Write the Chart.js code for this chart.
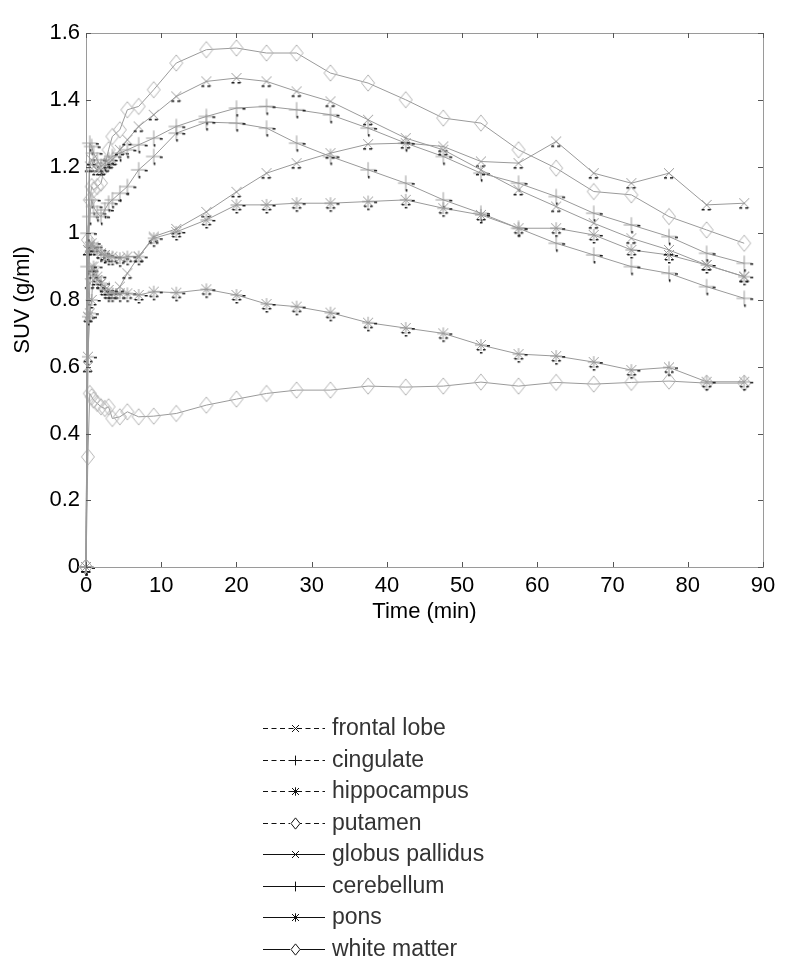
<!DOCTYPE html>
<html>
<head>
<meta charset="utf-8">
<script src="https://cdn.jsdelivr.net/npm/chart.js@4.4.1/dist/chart.umd.min.js"></script>
<style>
  body { margin: 0; background: #fff; }
  #suvChart { display: block; }
</style>
</head>
<body>
<canvas id="suvChart" width="800" height="968"></canvas>
<script>
// frame mid-times (min)
var times = [0, 0.25, 0.5, 0.75, 1, 1.5, 2, 2.5, 3, 3.5, 4.5, 5.5, 7, 9, 12, 16, 20, 24, 28, 32.5, 37.5, 42.5, 47.5, 52.5, 57.5, 62.5, 67.5, 72.5, 77.5, 82.5, 87.5];

var regionNames = ['frontal lobe', 'cingulate', 'hippocampus', 'putamen', 'globus pallidus', 'cerebellum', 'pons', 'white matter'];

// SUV (g/ml)
var frontalLobe   = [0, 0.95, 1.2, 1.22, 1.2, 1.19, 1.19, 1.2, 1.21, 1.22, 1.25, 1.28, 1.32, 1.355, 1.41, 1.455, 1.465, 1.455, 1.425, 1.395, 1.34, 1.285, 1.25, 1.19, 1.13, 1.08, 1.03, 0.985, 0.95, 0.905, 0.87];
var cingulate     = [0, 1.0, 1.27, 1.26, 1.24, 1.22, 1.2, 1.21, 1.22, 1.23, 1.24, 1.25, 1.265, 1.285, 1.32, 1.35, 1.375, 1.38, 1.37, 1.355, 1.315, 1.27, 1.23, 1.18, 1.15, 1.11, 1.06, 1.025, 0.99, 0.94, 0.91];
var hippocampus   = [0, 0.75, 0.96, 0.97, 0.96, 0.95, 0.94, 0.935, 0.93, 0.93, 0.925, 0.93, 0.93, 0.985, 1.004, 1.04, 1.085, 1.085, 1.09, 1.09, 1.095, 1.1, 1.075, 1.055, 1.015, 1.015, 0.995, 0.95, 0.935, 0.905, 0.87];
var putamen       = [0, 0.98, 1.1, 1.14, 1.13, 1.14, 1.15, 1.2, 1.25, 1.29, 1.31, 1.37, 1.38, 1.43, 1.51, 1.55, 1.555, 1.54, 1.54, 1.48, 1.45, 1.4, 1.345, 1.33, 1.25, 1.195, 1.125, 1.115, 1.05, 1.01, 0.97];
var globusPallidus = [0, 0.6, 0.85, 0.9, 0.88, 0.86, 0.85, 0.84, 0.83, 0.82, 0.84, 0.88, 0.93, 0.99, 1.013, 1.064, 1.124, 1.18, 1.21, 1.24, 1.267, 1.27, 1.26, 1.215, 1.21, 1.275, 1.18, 1.15, 1.18, 1.085, 1.09];
var cerebellum    = [0, 0.9, 1.05, 1.1, 1.08, 1.06, 1.05, 1.07, 1.09, 1.1, 1.12, 1.14, 1.19, 1.23, 1.3, 1.333, 1.33, 1.315, 1.27, 1.23, 1.19, 1.15, 1.1, 1.06, 1.015, 0.97, 0.935, 0.9, 0.88, 0.84, 0.805];
var pons          = [0, 0.63, 0.76, 0.8, 0.9, 0.87, 0.85, 0.83, 0.82, 0.82, 0.82, 0.82, 0.815, 0.825, 0.822, 0.832, 0.815, 0.788, 0.78, 0.762, 0.732, 0.716, 0.7, 0.665, 0.638, 0.632, 0.614, 0.59, 0.598, 0.555, 0.555];
var whiteMatter   = [0, 0.33, 0.52, 0.51, 0.5, 0.49, 0.48, 0.475, 0.48, 0.445, 0.45, 0.465, 0.45, 0.452, 0.46, 0.485, 0.503, 0.52, 0.53, 0.53, 0.542, 0.539, 0.542, 0.554, 0.542, 0.553, 0.548, 0.553, 0.557, 0.551, 0.551];

var xTicks = [0, 10, 20, 30, 40, 50, 60, 70, 80, 90];
var yTicks = [0, 0.2, 0.4, 0.6, 0.8, 1, 1.2, 1.4, 1.6];

var seriesValues = [frontalLobe, cingulate, hippocampus, putamen, globusPallidus, cerebellum, pons, whiteMatter];
var markerKinds = ['x', '+', '*', 'd', 'x', '+', '*', 'd'];
var dashedLegend = [true, true, true, true, false, false, false, false];

var FONT = "'Liberation Sans', Arial, sans-serif";

// draw one marker shape on a context, centred at cx, cy
function drawShape(g, kind, cx, cy, s) {
  g.beginPath();
  if (kind === 'x' || kind === '*') {
    g.moveTo(cx - s, cy - s); g.lineTo(cx + s, cy + s);
    g.moveTo(cx + s, cy - s); g.lineTo(cx - s, cy + s);
  }
  if (kind === '+' || kind === '*') {
    var p = kind === '+' ? s * 1.4 : s * 1.2;
    g.moveTo(cx - p, cy); g.lineTo(cx + p, cy);
    g.moveTo(cx, cy - p); g.lineTo(cx, cy + p);
  }
  if (kind === 'd') {
    g.moveTo(cx, cy - s * 1.25); g.lineTo(cx + s, cy);
    g.lineTo(cx, cy + s * 1.25); g.lineTo(cx - s, cy);
    g.closePath();
  }
  g.stroke();
}

// plot markers: grey glyph plus the little black specks of the original print
function makeMarker(kind) {
  var c = document.createElement('canvas');
  c.width = 32; c.height = 32;
  var g = c.getContext('2d');
  var cx = 16, cy = 16;
  g.strokeStyle = kind === 'd' ? '#b4b4b4' : '#9a9a9a';
  g.lineWidth = 1;
  var size = { x: 5, '+': 5.5, '*': 5, d: 6.5 }[kind];
  drawShape(g, kind, cx, cy, size);
  g.fillStyle = '#1a1a1a';
  if (kind === 'x') {
    g.fillRect(cx - 5, cy + 4, 3, 1.5);
    g.fillRect(cx + 1, cy + 4, 3, 1.5);
  } else if (kind === '+') {
    g.fillRect(cx + 6, cy, 3, 1.5);
    g.fillRect(cx, cy + 6, 1.5, 2.5);
  } else if (kind === '*') {
    g.fillRect(cx + 6, cy, 3, 1.5);
    g.fillRect(cx - 4, cy + 4, 2.5, 1.5);
    g.fillRect(cx + 2, cy + 4, 2.5, 1.5);
    g.fillRect(cx - 1, cy + 7, 2.5, 1.5);
  }
  return c;
}

var boxPlugin = {
  id: 'matlabBox',
  afterDatasetsDraw: function(chart) {
    var ctx = chart.ctx, a = chart.chartArea;
    var xs = chart.scales.x, ys = chart.scales.y;
    ctx.save();
    ctx.strokeStyle = '#9a9a9a';
    ctx.lineWidth = 1;
    ctx.strokeRect(a.left + 0.5, a.top + 0.5, a.right - a.left, a.bottom - a.top);
    // inward ticks on all four sides
    ctx.strokeStyle = '#555';
    ctx.beginPath();
    xTicks.forEach(function(v) {
      var px = Math.round(xs.getPixelForValue(v)) + 0.5;
      ctx.moveTo(px, a.bottom); ctx.lineTo(px, a.bottom - 5);
      ctx.moveTo(px, a.top); ctx.lineTo(px, a.top + 5);
    });
    yTicks.forEach(function(v) {
      var py = Math.round(ys.getPixelForValue(v)) + 0.5;
      ctx.moveTo(a.left, py); ctx.lineTo(a.left + 5, py);
      ctx.moveTo(a.right, py); ctx.lineTo(a.right - 5, py);
    });
    ctx.stroke();
    ctx.restore();
  }
};

var legendPlugin = {
  id: 'bottomLegend',
  afterDraw: function(chart) {
    var ctx = chart.ctx;
    ctx.save();
    chart.data.datasets.forEach(function(ds, i) {
      var y = Math.round(728 + i * 31.5);
      ctx.strokeStyle = '#111';
      ctx.lineWidth = 1;
      ctx.setLineDash(dashedLegend[i] ? [5, 3.5] : []);
      ctx.beginPath();
      ctx.moveTo(263, y + 0.5); ctx.lineTo(325, y + 0.5);
      ctx.stroke();
      ctx.setLineDash([]);
      var k = markerKinds[i];
      ctx.fillStyle = '#fff';
      if (k === 'd') ctx.fillRect(290, y - 6, 10, 12);
      drawShape(ctx, k, 295.5, y + 0.5, k === 'd' ? 4.5 : 3.5);
      ctx.fillStyle = '#333';
      ctx.font = '23px ' + FONT;
      ctx.textBaseline = 'middle';
      ctx.fillText(ds.label, 332, y + 1);
    });
    ctx.restore();
  }
};

var datasets = regionNames.map(function(name, i) {
  return {
    label: name,
    data: times.map(function(t, j) { return { x: t, y: seriesValues[i][j] }; }),
    borderColor: '#9a9a9a',
    borderWidth: 1,
    pointStyle: makeMarker(markerKinds[i]),
    pointRadius: 5,
    tension: 0,
    fill: false
  };
});

var ctx = document.getElementById('suvChart').getContext('2d');
new Chart(ctx, {
  type: 'line',
  data: { datasets: datasets },
  options: {
    responsive: false,
    animation: false,
    clip: false,
    layout: { padding: { left: 0, top: 33, right: 37, bottom: 301 } },
    plugins: {
      legend: { display: false },
      tooltip: { enabled: false }
    },
    scales: {
      x: {
        type: 'linear',
        min: 0, max: 90,
        afterFit: function(scale) { scale.height = 100; },
        afterBuildTicks: function(scale) { scale.ticks = xTicks.map(function(v) { return { value: v }; }); },
        grid: { display: false, drawTicks: false },
        border: { display: false },
        ticks: { color: '#000', padding: 6, maxRotation: 0, font: { family: FONT, size: 22 } },
        title: { display: true, text: 'Time (min)', color: '#000', padding: { top: 0, bottom: 42 }, font: { family: FONT, size: 22 } }
      },
      y: {
        min: 0, max: 1.6,
        afterFit: function(scale) { scale.width = 86; },
        afterBuildTicks: function(scale) { scale.ticks = yTicks.map(function(v) { return { value: v }; }); },
        grid: { display: false, drawTicks: false },
        border: { display: false },
        ticks: { color: '#000', padding: 6, font: { family: FONT, size: 22 },
          callback: function(v) { return String(Math.round(v * 10) / 10); } },
        title: { display: true, text: 'SUV (g/ml)', color: '#000', padding: { top: 10, bottom: 0 }, font: { family: FONT, size: 22 } }
      }
    }
  },
  plugins: [boxPlugin, legendPlugin]
});
</script>
</body>
</html>
